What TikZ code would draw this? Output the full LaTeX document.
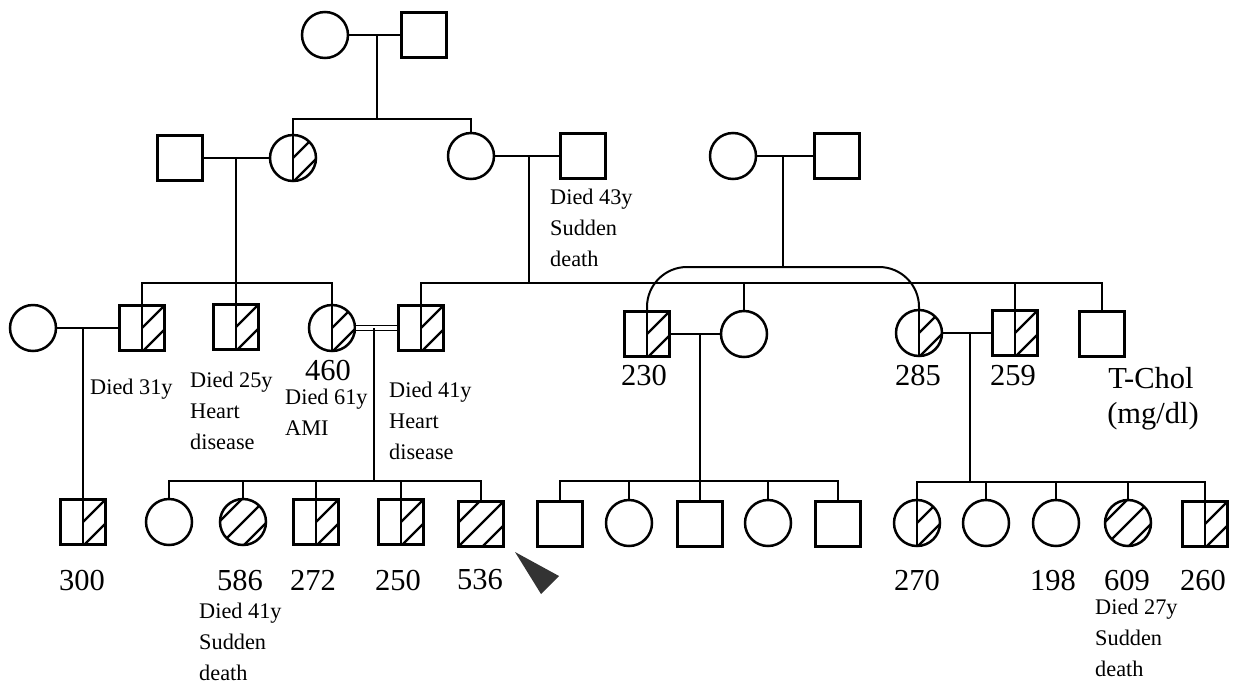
\documentclass[tikz,border=0pt]{standalone}
\usepackage{fontspec}
\setmainfont{Liberation Serif}
\newcommand\hatchfull{\foreach \k in {-2,...,2}{\draw[line width=2.4pt] ([shift={(-40,40+\k*24)}]path picture bounding box.center) -- ++(80,-80);}}
\newcommand\hatchhalf{\begin{scope}\clip (path picture bounding box.north) rectangle (path picture bounding box.south east); \hatchfull\end{scope}\draw[line width=2.2pt] (path picture bounding box.north) -- (path picture bounding box.south);}
\tikzset{
 conn/.style={line width=2pt},
 male/.style={draw, line width=2.5pt, rectangle, minimum size=45pt, inner sep=0pt},
 female/.style={draw, line width=2.5pt, circle, minimum size=46pt, inner sep=0pt},
 halfaff/.style={path picture={\hatchhalf}},
 fullaff/.style={path picture={\hatchfull}},
 lbl/.style={font=\fontsize{30.5}{34}\selectfont, inner sep=0pt},
 note/.style={font=\fontsize{22.3}{31}\selectfont, align=left, anchor=north west, inner sep=0pt},
}
\begin{document}
\begin{tikzpicture}[x=1pt,y=-1pt]
\useasboundingbox (0,0) rectangle (1236,686);
% generation 1
\node[female] (g1f) at (325,35) {};
\node[male] (g1m) at (424,35) {};
% generation 2
\node[male] (g2a) at (180,158) {};
\node[female,halfaff] (g2b) at (293,158) {};
\node[female] (g2c) at (471,156) {};
\node[male] (g2d) at (583,156) {};
\node[female] (g2e) at (733,156) {};
\node[male] (g2f) at (837,156) {};
% generation 3
\node[female] (g3a) at (33,328) {};
\node[male,halfaff] (g3b) at (142,328) {};
\node[male,halfaff] (g3c) at (236,327) {};
\node[female,halfaff] (g3d) at (332,328) {};
\node[male,halfaff] (g3e) at (421,328) {};
\node[male,halfaff] (g3f) at (647,334) {};
\node[female] (g3g) at (744,334) {};
\node[female,halfaff] (g3h) at (919,333) {};
\node[male,halfaff] (g3i) at (1015,333) {};
\node[male] (g3j) at (1102,334) {};
% generation 4
\node[male,halfaff] (g4a) at (83,522) {};
\node[female] (g4b) at (169,522) {};
\node[female,fullaff] (g4c) at (243,522) {};
\node[male,halfaff] (g4d) at (316,522) {};
\node[male,halfaff] (g4e) at (401,522) {};
\node[male,fullaff] (g4f) at (481,524) {};
\node[male] (g4g) at (560,524) {};
\node[female] (g4h) at (629,523) {};
\node[male] (g4i) at (700,524) {};
\node[female] (g4j) at (768,523) {};
\node[male] (g4k) at (838,524) {};
\node[female,halfaff] (g4l) at (917,523) {};
\node[female] (g4m) at (986,523) {};
\node[female] (g4n) at (1056,523) {};
\node[female,fullaff] (g4o) at (1128,523) {};
\node[male,halfaff] (g4p) at (1205,524) {};
% coordinates for lines
\coordinate (s1) at (377,119);
\coordinate (s2) at (236,283);
\coordinate (s3) at (529,283);
\coordinate (arch) at (783,267);
\coordinate (s5) at (374,481);
\coordinate (s6) at (700,481);
\coordinate (s7) at (970,482);
% gen1 couple and sibship
\draw[conn] (g1f.east) -- (g1m.west);
\draw[conn] (s1 |- g1f.east) -- (s1);
\draw[conn] (g2b.north) -- (g2b.north |- s1) -- (g2c.north |- s1) -- (g2c.north);
% gen2 left couple
\draw[conn] (g2a.east) -- (g2b.west);
\draw[conn] (s2 |- g2a.east) -- (s2);
\draw[conn] (g3b.north) -- (g3b.north |- s2) -- (g3d.north |- s2) -- (g3d.north);
\draw[conn] (g3c.north) -- (g3c.north |- s2);
% gen2 middle couple
\draw[conn] (g2c.east) -- (g2d.west);
\draw[conn] (s3 |- g2c.east) -- (s3);
\draw[conn] (g3e.north) -- (g3e.north |- s3) -- (g3j.north |- s3) -- (g3j.north);
\draw[conn] (g3g.north) -- (g3g.north |- s3);
\draw[conn] (g3i.north) -- (g3i.north |- s3);
% gen2 right couple with arch
\draw[conn] (g2e.east) -- (g2f.west);
\draw[conn] (arch |- g2e.east) -- (arch);
\draw[conn, rounded corners=40pt] (g3f.north) -- (g3f.north |- arch) -- (g3h.north |- arch) -- (g3h.north);
% gen3 couples
\draw[conn] (g3a.east) -- (g3b.west);
\draw[conn] (g4a.north |- g3a.east) -- (g4a.north);
\draw[line width=1.8pt, double, double distance=3.2pt] (g3d.east) -- (g3e.west);
\draw[conn] (s5 |- g3d.east) -- (s5);
\draw[conn] (g4b.north) -- (g4b.north |- s5) -- (g4f.north |- s5) -- (g4f.north);
\foreach \n in {g4c,g4d,g4e} \draw[conn] (\n.north) -- (\n.north |- s5);
\draw[conn] (g3f.east) -- (g3g.west);
\draw[conn] (s6 |- g3f.east) -- (s6);
\draw[conn] (g4g.north) -- (g4g.north |- s6) -- (g4k.north |- s6) -- (g4k.north);
\foreach \n in {g4h,g4i,g4j} \draw[conn] (\n.north) -- (\n.north |- s6);
\draw[conn] (g3h.east) -- (g3i.west);
\draw[conn] (s7 |- g3h.east) -- (s7);
\draw[conn] (g4l.north) -- (g4l.north |- s7) -- (g4p.north |- s7) -- (g4p.north);
\foreach \n in {g4m,g4n,g4o} \draw[conn] (\n.north) -- (\n.north |- s7);
% proband arrow
\fill[black!80] (515,552) -- (559,576) -- (541,594) -- cycle;
% numbers
\node[lbl] (n460) at (328,370) {460};
\node[lbl] (n230) at (644,375) {230};
\node[lbl] (n285) at (918,375) {285};
\node[lbl] (n259) at (1013,376) {259};
\node[lbl] (n300) at (82,580) {300};
\node[lbl] (n586) at (240,580) {586};
\node[lbl] (n272) at (313,580) {272};
\node[lbl] (n250) at (398,580) {250};
\node[lbl] (n536) at (480,580) {536};
\node[lbl] (n270) at (917,580) {270};
\node[lbl] (n198) at (1053,580) {198};
\node[lbl] (n609) at (1127,580) {609};
\node[lbl] (n260) at (1203,580) {260};
\node[lbl, anchor=base] (tchol) at (1151,388) {T-Chol};
\node[lbl, anchor=base] (unit) at (1153,423) {(mg/dl)};
% notes
\node[note] (d31) at (90,379) {Died 31y};
\node[note] (d25) at (190,372) {Died 25y\\Heart\\disease};
\node[note] (d61) at (285,389) {Died 61y\\AMI};
\node[note] (d41a) at (389,382) {Died 41y\\Heart\\disease};
\node[note] (d43) at (550,189) {Died 43y\\Sudden\\death};
\node[note] (d41b) at (199,603) {Died 41y\\Sudden\\death};
\node[note] (d27) at (1095,599) {Died 27y\\Sudden\\death};
\end{tikzpicture}
\end{document}
